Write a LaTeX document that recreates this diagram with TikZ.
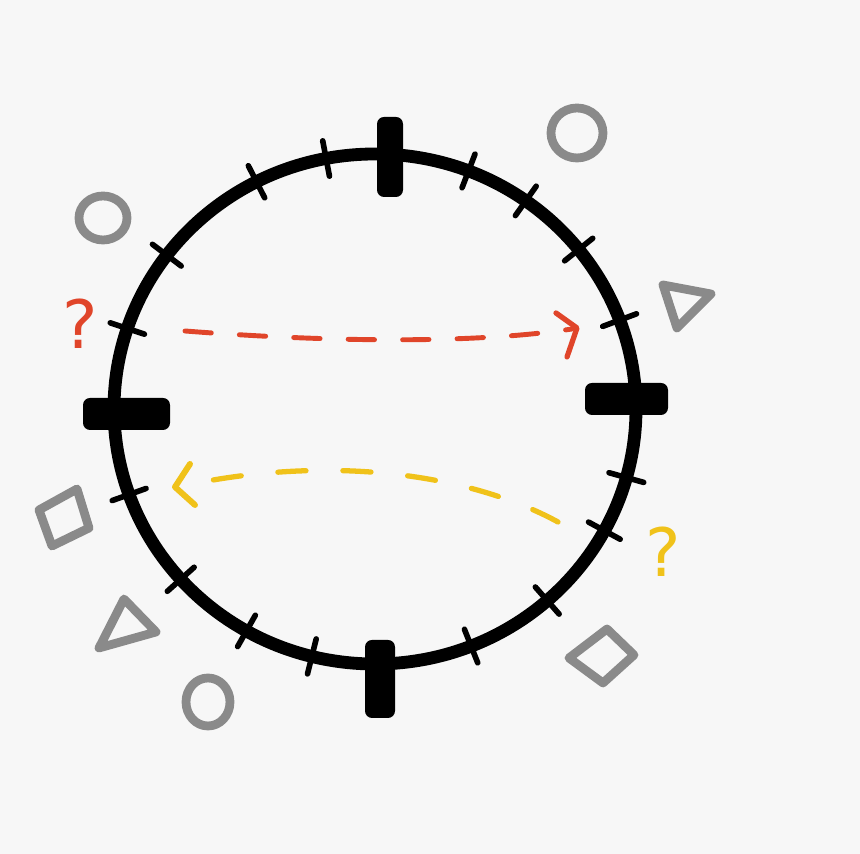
\documentclass[tikz,border=0pt]{standalone}
\usepackage{fontspec}
\setmainfont{DejaVu Sans}
\definecolor{bg}{HTML}{F7F7F7}
\definecolor{shapegray}{HTML}{8A8A8A}
\definecolor{redarrow}{HTML}{E0452A}
\definecolor{yelarrow}{HTML}{F0C21A}
\tikzset{
  ring/.style={line width=7.3pt, draw=black},
  tickmark/.style={line width=3.2pt, line cap=round, draw=black},
  bigbar/.style={fill=black, rounded corners=4pt},
  glyph/.style={draw=shapegray, line width=5pt, line join=round, line cap=round},
  reddash/.style={draw=redarrow, line width=2.8pt, line cap=round, dash pattern=on 15pt off 16pt},
  yeldash/.style={draw=yelarrow, line width=3pt, line cap=round, dash pattern=on 16pt off 21pt},
  redhead/.style={draw=redarrow, line width=3pt, line cap=round, line join=round},
  yelhead/.style={draw=yelarrow, line width=3.4pt, line cap=round, line join=round},
  qmark/.style={font=\fontsize{38}{38}\selectfont, inner sep=0pt}
}
\begin{document}
\begin{tikzpicture}[x=0.02cm,y=0.02cm]
\fill[bg] (0,0) rectangle (860,854);
\useasboundingbox (0,0) rectangle (860,854);
\coordinate (c) at (375,445);
% main ring
\draw[ring] (c) ellipse [x radius=261, y radius=255];
% small ticks
\foreach \a in {100.8,117,142.9,161.6,199.6,221.9,240.5,256,291.6,311.3,331.5,344.4,20.4,38.7,54.7,69}
  \draw[tickmark] ([shift={(c)}]\a:243 and 237) -- ([shift={(c)}]\a:279 and 273);
% big bars
\fill[bigbar] (377,657) rectangle (403,737);
\fill[bigbar] (83,424) rectangle (170,456);
\fill[bigbar] (585,439) rectangle (668,471);
\fill[bigbar] (365,136) rectangle (395,214);
% gray shapes
\draw[glyph] (577,721) ellipse [x radius=26, y radius=25];
\draw[glyph] (103,636) ellipse [x radius=24, y radius=22];
\draw[glyph] (208,152) ellipse [x radius=22, y radius=24];
\draw[glyph] (663,569) -- (711,560) -- (677,526) -- cycle;
\draw[glyph] (39,344) -- (77,365) -- (89,326) -- (52,308) -- cycle;
\draw[glyph] (124,255) -- (156,222) -- (99,206) -- cycle;
\draw[glyph] (607,225) -- (634,199) -- (603,171) -- (569,196) -- cycle;
% red dashed arrow
\coordinate (rs) at (185,523);
\coordinate (rt) at (577,526);
\coordinate (ra) at (556,541);
\coordinate (rb) at (567,497);
\draw[reddash] (rs) .. controls (300,514) and (460,508) .. (572,525);
\draw[redhead] (ra) -- (rt) -- (rb);
% yellow dashed arrow
\coordinate (ys) at (558,332);
\coordinate (yt) at (175,367);
\coordinate (ya) at (190,390);
\coordinate (yb) at (195,349);
\draw[yeldash] (ys) .. controls (470,380) and (330,400) .. (182,368);
\draw[yelhead] (ya) -- (yt) -- (yb);
% question marks
\node[qmark, text=redarrow] (q1) at (80,530) {?};
\node[qmark, text=yelarrow] (q2) at (663,302) {?};
\end{tikzpicture}
\end{document}
